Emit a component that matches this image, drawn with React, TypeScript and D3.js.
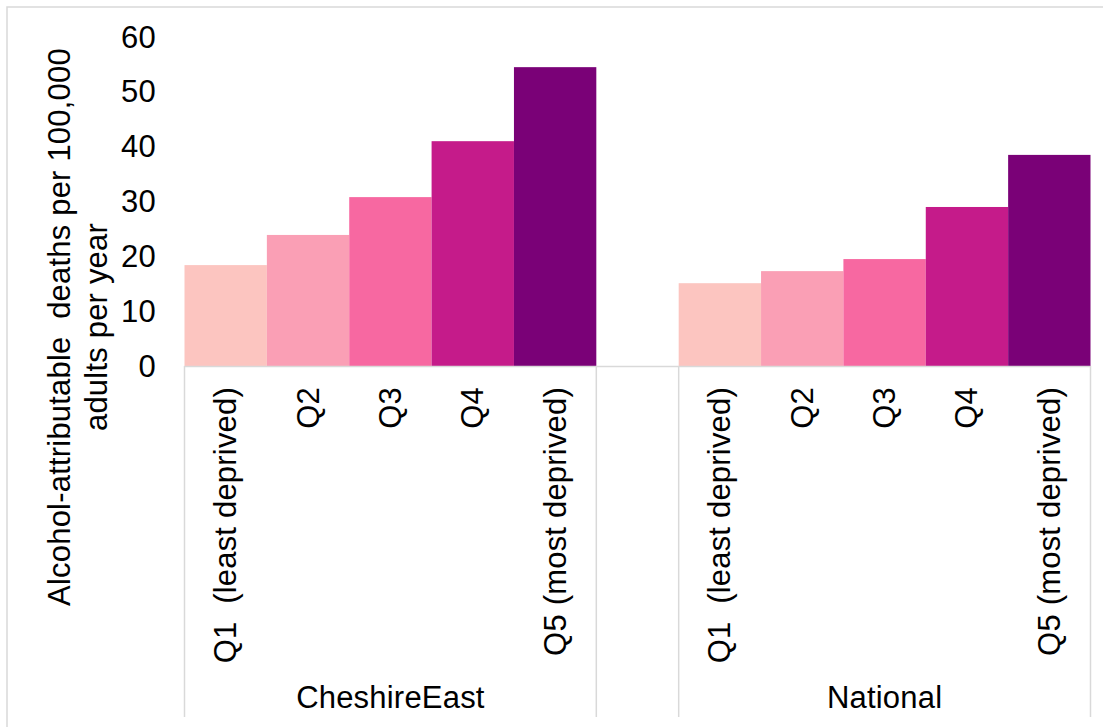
import * as d3 from "d3";

const groups = ["CheshireEast", "National"];
const quintiles = ["Q1  (least deprived)", "Q2", "Q3", "Q4", "Q5 (most deprived)"];
const cheshireEast = [18.4, 23.9, 30.8, 41.0, 54.5];
const national = [15.1, 17.3, 19.5, 29.0, 38.5];
const yTicks = [0, 10, 20, 30, 40, 50, 60];
const yLabel = ["Alcohol-attributable  deaths per 100,000", "adults per year"];

const colors = d3.schemeRdPu[6].slice(1);
const seriesValues = [cheshireEast, national];

const width = 1103;
const height = 727;
const margin = { top: 37, left: 184.5, right: 1090.5, bottom: 366 };
const FONT = "'Liberation Sans', Arial, sans-serif";
const FS = 31;
const GRID = "#d9d9d9";

// 11 slots: 5 per group with one empty slot between them
const slots: string[] = [];
groups.forEach((g, gi) => {
  if (gi > 0) slots.push(`gap${gi}`);
  quintiles.forEach((q) => slots.push(`${g}|${q}`));
});

const App = () => {
  const x = d3.scaleBand().domain(slots).range([margin.left, margin.right]).padding(0);
  const y = d3.scaleLinear().domain([0, 60]).range([margin.bottom, margin.top]);

  const bars = groups.flatMap((g, gi) =>
    quintiles.map((q, qi) => ({ key: `${g}|${q}`, q, qi, value: seriesValues[gi][qi] }))
  );

  const groupBounds = groups.map((g) => {
    const start = x(`${g}|${quintiles[0]}`) ?? 0;
    const end = (x(`${g}|${quintiles[quintiles.length - 1]}`) ?? 0) + x.bandwidth();
    return { g, start, end };
  });

  return (
    <>
      <style>{"body{margin:0}"}</style>
      <svg width={width} height={height} style={{ display: "block", fontFamily: FONT, letterSpacing: "0.2px" }}>
        <rect width={width} height={height} fill="#fff" />
        {/* chart border, cropped at right and bottom */}
        <rect x={7} y={7} width={width + 20} height={height + 20} fill="none" stroke={GRID} strokeWidth={1.5} />

        {/* bars */}
        {bars.map((b) => (
          <rect
            key={b.key}
            x={x(b.key)}
            y={y(b.value)}
            width={x.bandwidth()}
            height={y(0) - y(b.value)}
            fill={colors[b.qi]}
          />
        ))}

        {/* y tick labels */}
        {yTicks.map((t) => (
          <text key={t} x={156} y={y(t)} textAnchor="end" dominantBaseline="central" fontSize={FS} fill="#000">
            {t}
          </text>
        ))}

        {/* y axis title */}
        <text transform="translate(70,327) rotate(-90)" textAnchor="middle" fontSize={FS} fill="#000" style={{ whiteSpace: "pre" }}>
          <tspan x={0} dy={0}>{yLabel[0]}</tspan>
          <tspan x={0} dy={37}>{yLabel[1]}</tspan>
        </text>

        {/* category axis line */}
        <line x1={margin.left} x2={margin.right} y1={y(0) + 0.5} y2={y(0) + 0.5} stroke={GRID} strokeWidth={1.5} />

        {/* group dividers */}
        {groupBounds.flatMap((gb) => [gb.start, gb.end]).map((xv, i) => (
          <line key={i} x1={xv} x2={xv} y1={y(0)} y2={717} stroke={GRID} strokeWidth={1.5} />
        ))}

        {/* quintile labels */}
        {bars.map((b) => {
          const cx = (x(b.key) ?? 0) + x.bandwidth() / 2;
          return (
            <text
              key={`l-${b.key}`}
              transform={`translate(${cx},387) rotate(-90)`}
              textAnchor="end"
              dominantBaseline="central"
              fontSize={FS}
              fill="#000"
              style={{ whiteSpace: "pre" }}
            >
              {b.q}
            </text>
          );
        })}

        {/* group labels */}
        {groupBounds.map((gb) => (
          <text key={gb.g} x={(gb.start + gb.end) / 2} y={708} textAnchor="middle" fontSize={FS} fill="#000">
            {gb.g}
          </text>
        ))}
      </svg>
    </>
  );
};

export default App;
